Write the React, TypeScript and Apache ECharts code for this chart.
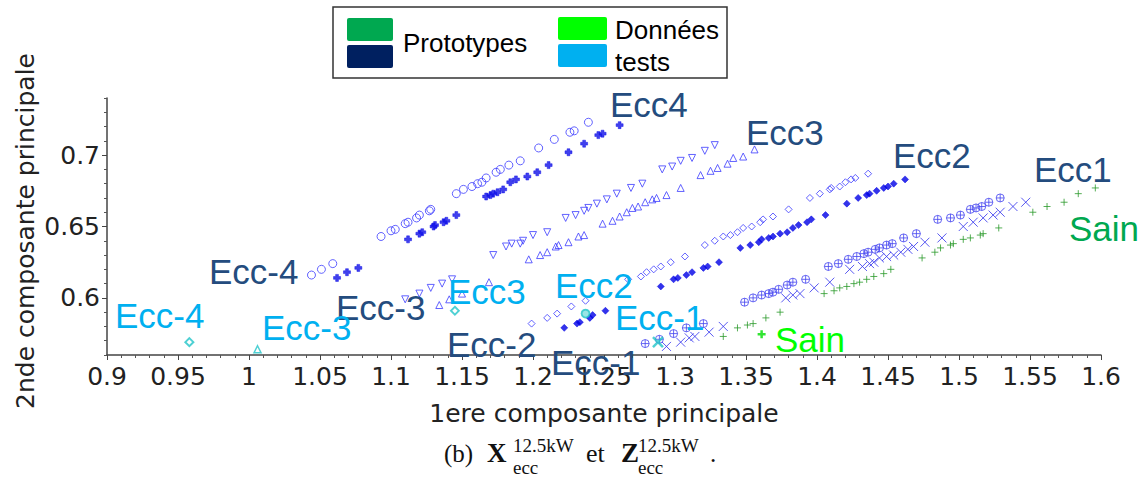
import React, { useEffect, useRef } from "react";
import * as echarts from "echarts";

// ---------- data (1ere composante, 2nde composante) ----------
const ecc4Circles: number[][] = [
  [1.044, 0.616], [1.051, 0.620], [1.059, 0.624], [1.093, 0.643], [1.100, 0.647], [1.103, 0.648],
  [1.110, 0.652], [1.112, 0.653], [1.118, 0.656], [1.120, 0.658], [1.127, 0.661], [1.128, 0.662],
  [1.146, 0.673], [1.151, 0.676], [1.157, 0.678], [1.161, 0.680], [1.164, 0.681], [1.167, 0.684],
  [1.174, 0.688], [1.177, 0.690], [1.183, 0.693], [1.191, 0.696], [1.204, 0.705], [1.215, 0.711],
  [1.226, 0.716], [1.229, 0.717], [1.239, 0.723],
];
const ecc4Crosses: number[][] = [
  [1.062, 0.614], [1.069, 0.618], [1.077, 0.621], [1.112, 0.641], [1.120, 0.645], [1.122, 0.646],
  [1.130, 0.650], [1.131, 0.651], [1.137, 0.653], [1.139, 0.654], [1.146, 0.658], [1.167, 0.671],
  [1.170, 0.672], [1.172, 0.673], [1.175, 0.674], [1.179, 0.676], [1.184, 0.681], [1.188, 0.683],
  [1.196, 0.685], [1.203, 0.688], [1.211, 0.693], [1.225, 0.702], [1.236, 0.708], [1.246, 0.714],
  [1.249, 0.715], [1.261, 0.721],
];
const ecc3Down: number[][] = [
  [1.110, 0.599], [1.120, 0.603], [1.128, 0.607], [1.136, 0.610], [1.143, 0.613], [1.172, 0.630],
  [1.181, 0.636], [1.185, 0.638], [1.191, 0.638], [1.193, 0.640], [1.200, 0.644], [1.210, 0.646],
  [1.223, 0.656], [1.230, 0.658], [1.236, 0.661], [1.239, 0.663], [1.245, 0.666], [1.252, 0.669],
  [1.259, 0.673], [1.269, 0.677], [1.277, 0.680], [1.291, 0.690], [1.298, 0.692], [1.304, 0.696],
  [1.312, 0.698], [1.321, 0.703], [1.328, 0.707],
];
const ecc3Up: number[][] = [
  [1.134, 0.595], [1.141, 0.599], [1.150, 0.603], [1.169, 0.611], [1.197, 0.627], [1.205, 0.630],
  [1.210, 0.632], [1.216, 0.636], [1.218, 0.637], [1.225, 0.639], [1.232, 0.643], [1.236, 0.644],
  [1.249, 0.652], [1.256, 0.654], [1.261, 0.657], [1.266, 0.660], [1.270, 0.663], [1.274, 0.664],
  [1.279, 0.667], [1.284, 0.669], [1.287, 0.670], [1.294, 0.672], [1.304, 0.677], [1.318, 0.686],
  [1.325, 0.689], [1.330, 0.691], [1.337, 0.694], [1.341, 0.698], [1.348, 0.699], [1.356, 0.704],
];
const ecc2Open: number[][] = [
  [1.199, 0.582], [1.210, 0.586], [1.217, 0.589], [1.227, 0.594], [1.237, 0.598], [1.267, 0.613],
  [1.276, 0.615], [1.280, 0.618], [1.285, 0.620], [1.290, 0.622], [1.297, 0.625], [1.307, 0.629],
  [1.321, 0.637], [1.328, 0.640], [1.334, 0.643], [1.339, 0.644], [1.344, 0.646], [1.348, 0.649],
  [1.354, 0.650], [1.360, 0.653], [1.362, 0.655], [1.369, 0.657], [1.380, 0.662], [1.395, 0.670],
  [1.402, 0.673], [1.409, 0.676], [1.410, 0.677], [1.416, 0.678], [1.420, 0.681], [1.424, 0.683],
  [1.427, 0.684], [1.436, 0.687],
];
const ecc2Filled: number[][] = [
  [1.222, 0.579], [1.231, 0.582], [1.233, 0.583], [1.240, 0.586], [1.242, 0.588], [1.251, 0.591],
  [1.290, 0.608], [1.299, 0.613], [1.302, 0.614], [1.308, 0.616], [1.312, 0.618], [1.320, 0.621],
  [1.323, 0.622], [1.331, 0.625], [1.346, 0.635], [1.353, 0.637], [1.359, 0.639], [1.361, 0.641],
  [1.366, 0.642], [1.369, 0.643], [1.374, 0.645], [1.379, 0.646], [1.383, 0.649], [1.387, 0.651],
  [1.393, 0.653], [1.396, 0.655], [1.406, 0.658], [1.421, 0.666], [1.429, 0.670], [1.435, 0.672],
  [1.437, 0.673], [1.442, 0.675], [1.447, 0.677], [1.450, 0.678], [1.454, 0.680], [1.462, 0.683],
];
const ecc1CirclePlus: number[][] = [
  [1.279, 0.568], [1.289, 0.571], [1.299, 0.575], [1.308, 0.579], [1.320, 0.582], [1.349, 0.597],
  [1.355, 0.600], [1.361, 0.602], [1.366, 0.603], [1.369, 0.604], [1.373, 0.606], [1.379, 0.609],
  [1.383, 0.611], [1.392, 0.613], [1.408, 0.622], [1.415, 0.624], [1.422, 0.627], [1.428, 0.629],
  [1.433, 0.631], [1.436, 0.632], [1.441, 0.634], [1.444, 0.635], [1.449, 0.637], [1.453, 0.638],
  [1.461, 0.642], [1.470, 0.645], [1.485, 0.655], [1.494, 0.656], [1.501, 0.658], [1.508, 0.662],
  [1.512, 0.663], [1.516, 0.664], [1.521, 0.667], [1.529, 0.670],
];
const ecc1Cross: number[][] = [
  [1.294, 0.566], [1.304, 0.569], [1.310, 0.572], [1.314, 0.573], [1.324, 0.576], [1.334, 0.580],
  [1.378, 0.600], [1.383, 0.602], [1.388, 0.603], [1.398, 0.607], [1.409, 0.611], [1.423, 0.620],
  [1.432, 0.622], [1.437, 0.624], [1.440, 0.625], [1.444, 0.628], [1.449, 0.629], [1.454, 0.630],
  [1.459, 0.632], [1.464, 0.634], [1.468, 0.636], [1.476, 0.639], [1.488, 0.642], [1.503, 0.650],
  [1.510, 0.653], [1.517, 0.656], [1.524, 0.658], [1.529, 0.660], [1.538, 0.664], [1.547, 0.667],
];
const sainPlus: number[][] = [
  [1.334, 0.573], [1.344, 0.579], [1.351, 0.581], [1.355, 0.582], [1.364, 0.586], [1.374, 0.590],
  [1.405, 0.603], [1.412, 0.605], [1.416, 0.607], [1.421, 0.608], [1.426, 0.610], [1.430, 0.611],
  [1.435, 0.613], [1.440, 0.615], [1.447, 0.617], [1.452, 0.620], [1.474, 0.628], [1.483, 0.632],
  [1.487, 0.635], [1.494, 0.637], [1.496, 0.638], [1.503, 0.641], [1.508, 0.642], [1.515, 0.644],
  [1.517, 0.645], [1.528, 0.649], [1.552, 0.660], [1.562, 0.664], [1.574, 0.667], [1.584, 0.673],
  [1.596, 0.677],
];
// test data
const testEccM4: number[][] = [[0.958, 0.569]];
const testEccM3: number[][] = [[1.006, 0.564]];
const testEcc3: number[][] = [[1.145, 0.591]];
const testEcc2: number[][] = [[1.237, 0.589]];
const testEccM1: number[][] = [[1.288, 0.569]];
const testSain: number[][] = [[1.361, 0.5745]];

const yMajorTicks = [0.6, 0.65, 0.7];
const legendLabels = ["Prototypes", "Données", "tests"];
const axisNames = ["1ere composante principale", "2nde composante principale"];

// ---------- symbols ----------
const SYM_X = "path://M0,0 L10,10 M10,0 L0,10";
const SYM_PLUS = "path://M5,0 L5,10 M0,5 L10,5";
const SYM_FPLUS = "path://M3,0 L7,0 L7,3 L10,3 L10,7 L7,7 L7,10 L3,10 L3,7 L0,7 L0,3 L3,3 Z";
const SYM_CPLUS = "path://M10,5 A5,5 0 1 1 0,5 A5,5 0 1 1 10,5 Z M0,5 L10,5 M5,0 L5,10";

const BLUE_OPEN = "#3b3bff";
const BLUE_FILL = "#1010e8";
const TURQ = "#22c4c8";

function openS(name: string, data: number[][], symbol: string, size: number, color: string, extra: any = {}) {
  return {
    type: "scatter", name, data, symbol, symbolSize: size, silent: true,
    itemStyle: { color: "transparent", borderColor: color, borderWidth: 1 },
    ...extra,
  };
}
function fillS(name: string, data: number[][], symbol: string, size: number, color: string, extra: any = {}) {
  return {
    type: "scatter", name, data, symbol, symbolSize: size, silent: true,
    itemStyle: { color, borderColor: color, borderWidth: 0.6 },
    ...extra,
  };
}

const DARK = "#244c7e";
const CYAN = "#00b0f0";
const LGREEN = "#00ff00";
const DGREEN = "#00a850";

function label(text: string, left: number, cy: number, color: string) {
  return {
    type: "text", x: left, y: cy, z: 100,
    style: { text, fill: color, fontSize: 35, fontFamily: "'Liberation Sans', Arial, sans-serif", align: "left", verticalAlign: "middle" },
  };
}
function serif(text: string, left: number, cy: number, size: number, bold = false) {
  return {
    type: "text", x: left, y: cy, z: 100,
    style: {
      text, fill: "#111", fontSize: size, fontWeight: bold ? "bold" : "normal",
      fontFamily: "'Liberation Serif', 'DejaVu Serif', serif",
      align: "left", verticalAlign: "middle",
    },
  };
}

const option: any = {
  animation: false,
  backgroundColor: "#ffffff",
  grid: { left: 107, right: 43, top: 98, bottom: 125, containLabel: false, outerBoundsMode: "none" },
  xAxis: {
    type: "value", min: 0.9, max: 1.6, interval: 0.05,
    axisLine: { show: true, lineStyle: { color: "#444", width: 1.5 } },
    axisTick: { show: true, length: 5, lineStyle: { color: "#444" } },
    minorTick: { show: true, splitNumber: 5, length: 3, lineStyle: { color: "#555" } },
    splitLine: { show: false },
    axisLabel: {
      fontFamily: "'DejaVu Sans', sans-serif", fontSize: 25, color: "#222", margin: 9,
      formatter: (v: number) => String(+v.toFixed(2)),
    },
  },
  yAxis: [
    {
      type: "value", min: 0.56, max: 0.74, interval: 0.01, position: "left",
      axisLine: { show: true, lineStyle: { color: "#444", width: 1.5 } },
      axisTick: { show: true, length: 3, lineStyle: { color: "#555" } },
      axisLabel: { show: false },
      splitLine: { show: false },
    },
    {
      type: "value", min: 0.56, max: 0.74, position: "left",
      axisLine: { show: false },
      axisTick: { show: true, length: 5, customValues: yMajorTicks, lineStyle: { color: "#444" } },
      axisLabel: {
        show: true, customValues: yMajorTicks,
        fontFamily: "'DejaVu Sans', sans-serif", fontSize: 25, color: "#222", margin: 7,
        formatter: (v: number) => String(+v.toFixed(2)),
      },
      splitLine: { show: false },
    },
  ],
  series: [
    openS("Ecc4 o", ecc4Circles, "circle", 8, BLUE_OPEN),
    fillS("Ecc4 +", ecc4Crosses, SYM_FPLUS, 7, BLUE_FILL),
    openS("Ecc3 v", ecc3Down, "triangle", 7, BLUE_OPEN, { symbolRotate: 180 }),
    openS("Ecc3 ^", ecc3Up, "triangle", 7, BLUE_OPEN),
    openS("Ecc2 <>", ecc2Open, "diamond", 7, BLUE_OPEN),
    fillS("Ecc2 ◆", ecc2Filled, "diamond", 7, "#0000e6"),
    openS("Ecc1 ⊕", ecc1CirclePlus, SYM_CPLUS, 8, "#4444f0"),
    openS("Ecc1 x", ecc1Cross, SYM_X, 9, "#3030ee"),
    openS("Sain +", sainPlus, SYM_PLUS, 7, "#2a9a2a"),
    openS("Test Ecc-4", testEccM4, "diamond", 8, TURQ, { itemStyle: { color: "transparent", borderColor: TURQ, borderWidth: 2 } }),
    openS("Test Ecc-3", testEccM3, "triangle", 7, TURQ, { itemStyle: { color: "transparent", borderColor: TURQ, borderWidth: 1.5 } }),
    openS("Test Ecc3", testEcc3, "diamond", 8, TURQ, { itemStyle: { color: "transparent", borderColor: TURQ, borderWidth: 1.8 } }),
    openS("Test Ecc2", testEcc2, "circle", 8, TURQ, { itemStyle: { color: "#7fdede", borderColor: TURQ, borderWidth: 1.8 } }),
    openS("Test Ecc-1", testEccM1, SYM_X, 10, TURQ, { itemStyle: { color: "transparent", borderColor: TURQ, borderWidth: 2.5 } }),
    openS("Test Sain", testSain, SYM_PLUS, 8, "#00dd00", { itemStyle: { color: "transparent", borderColor: "#00dd00", borderWidth: 2.5 } }),
  ],
  graphic: [
    // legend box
    { type: "rect", z: 100, shape: { x: 333, y: 7, width: 394, height: 71 }, style: { fill: "#fff", stroke: "#333", lineWidth: 1.5 } },
    { type: "rect", z: 101, shape: { x: 347, y: 18, width: 46, height: 23, r: 2 }, style: { fill: DGREEN } },
    { type: "rect", z: 101, shape: { x: 347, y: 45, width: 46, height: 23, r: 2 }, style: { fill: "#002060" } },
    { type: "rect", z: 101, shape: { x: 558, y: 17, width: 49, height: 23, r: 2 }, style: { fill: LGREEN } },
    { type: "rect", z: 101, shape: { x: 558, y: 44, width: 49, height: 23, r: 2 }, style: { fill: CYAN } },
    { type: "text", z: 101, x: 403, y: 43, style: { text: legendLabels[0], fill: "#000", fontSize: 26, fontFamily: "'Liberation Sans', Arial, sans-serif", verticalAlign: "middle" } },
    { type: "text", z: 101, x: 615, y: 30, style: { text: legendLabels[1], fill: "#000", fontSize: 26, fontFamily: "'Liberation Sans', Arial, sans-serif", verticalAlign: "middle" } },
    { type: "text", z: 101, x: 615, y: 62, style: { text: legendLabels[2], fill: "#000", fontSize: 26, fontFamily: "'Liberation Sans', Arial, sans-serif", verticalAlign: "middle" } },
    // axis names
    { type: "text", z: 100, x: 604, y: 413, style: { text: axisNames[0], fill: "#222", fontSize: 25, fontFamily: "'DejaVu Sans', sans-serif", align: "center", verticalAlign: "middle" } },
    { type: "text", z: 100, x: 25, y: 231, rotation: Math.PI / 2, style: { text: axisNames[1], fill: "#222", fontSize: 25, fontFamily: "'DejaVu Sans', sans-serif", align: "center", verticalAlign: "middle" } },
    // prototype labels
    label("Ecc4", 610, 104, DARK),
    label("Ecc3", 746, 132, DARK),
    label("Ecc2", 893, 155, DARK),
    label("Ecc1", 1034, 169, DARK),
    label("Sain", 1069, 228, DGREEN),
    label("Ecc-4", 209, 271, DARK),
    label("Ecc-3", 336, 307, DARK),
    label("Ecc-2", 447, 344, DARK),
    label("Ecc-1", 551, 362, DARK),
    // test labels
    label("Ecc-4", 115, 315, CYAN),
    label("Ecc-3", 262, 327, CYAN),
    label("Ecc3", 448, 291, CYAN),
    label("Ecc2", 555, 285, CYAN),
    label("Ecc-1", 615, 317, CYAN),
    label("Sain", 775, 339, LGREEN),
    // caption
    serif("(b)", 444, 453, 25),
    serif("X", 487, 453, 27, true),
    serif("12.5kW", 513, 445, 19),
    serif("ecc", 513, 467, 19),
    serif("et", 586, 453, 26),
    serif("Z", 621, 453, 27, true),
    serif("12.5kW", 638, 445, 19),
    serif("ecc", 638, 467, 19),
    serif(".", 710, 453, 25),
  ],
};

export default function App() {
  const ref = useRef<HTMLDivElement>(null);
  useEffect(() => {
    document.body.style.margin = "0";
    const chart = echarts.init(ref.current!, null, { renderer: "svg" });
    chart.setOption(option);
    return () => chart.dispose();
  }, []);
  return <div ref={ref} style={{ width: 1144, height: 480 }} />;
}
